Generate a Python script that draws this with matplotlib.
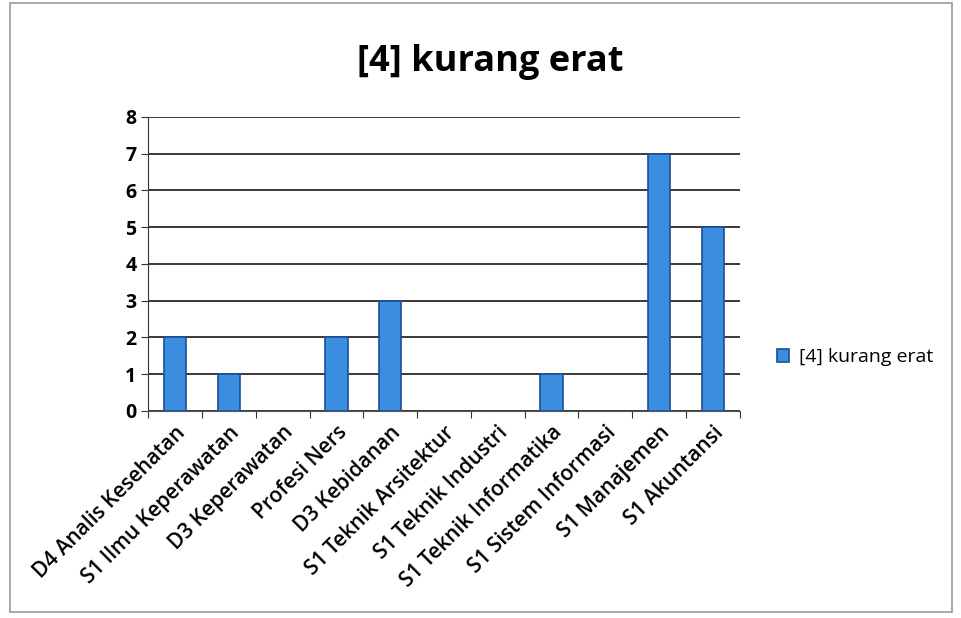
import matplotlib
matplotlib.use('Agg')
import matplotlib.pyplot as plt
from matplotlib.patches import Rectangle

categories = ["D4 Analis Kesehatan", "S1 Ilmu Keperawatan", "D3 Keperawatan", "Profesi Ners",
              "D3 Kebidanan", "S1 Teknik Arsitektur", "S1 Teknik Industri", "S1 Teknik Informatika",
              "S1 Sistem Informasi", "S1 Manajemen", "S1 Akuntansi"]
values = [2, 1, 0, 2, 3, 0, 0, 1, 0, 7, 5]
series_name = "[4] kurang erat"
y_ticks = [0, 1, 2, 3, 4, 5, 6, 7, 8]

plt.rcParams['font.family'] = ['Open Sans', 'DejaVu Sans']

fig = plt.figure(figsize=(9.62, 6.18), dpi=100)
fig.patches.append(Rectangle((0.01, 0.01), 0.98, 0.985, transform=fig.transFigure,
                             fill=False, edgecolor='#999999', linewidth=1.2))

ax = fig.add_axes([0.154, 0.335, 0.615, 0.476])
x = list(range(len(categories)))
# no outline on empty bars
lw = [1.2 if v > 0 else 0 for v in values]
ax.bar(x, values, width=0.42, color='#3b8de0', edgecolor='#1c4f96', linewidth=lw,
       label=series_name, zorder=3)

ax.set_xlim(-0.5, len(categories) - 0.5)
ax.set_ylim(0, 8)
ax.set_yticks(y_ticks)
ax.set_yticklabels([str(v) for v in y_ticks], fontsize=14, fontweight='bold')
ax.yaxis.grid(True, color='#2a2a2a', linewidth=1.3, zorder=0)

ax.set_xticks([i - 0.5 for i in range(len(categories) + 1)], minor=False)
ax.set_xticklabels([])
ax.set_xticks(x, minor=True)
ax.set_xticklabels(categories, minor=True, rotation=45, ha='right', rotation_mode='anchor',
                   fontsize=15, fontweight='semibold')
ax.tick_params(axis='x', which='minor', length=0, pad=8)
ax.tick_params(axis='x', which='major', length=5, direction='out', color='#333333')
ax.tick_params(axis='y', length=5, direction='out', color='#333333')

for s in ['top', 'right']:
    ax.spines[s].set_visible(False)
ax.spines['left'].set_color('#333333')
ax.spines['bottom'].set_color('#555555')

fig.text(0.51, 0.9, series_name, ha='center', va='center', fontsize=26, fontweight='bold')

fig.legend(loc='center left', bbox_to_anchor=(0.79, 0.422), frameon=False, fontsize=14,
           handlelength=0.6, handleheight=0.6, handletextpad=0.5)

fig.savefig('out.png', dpi=100)
